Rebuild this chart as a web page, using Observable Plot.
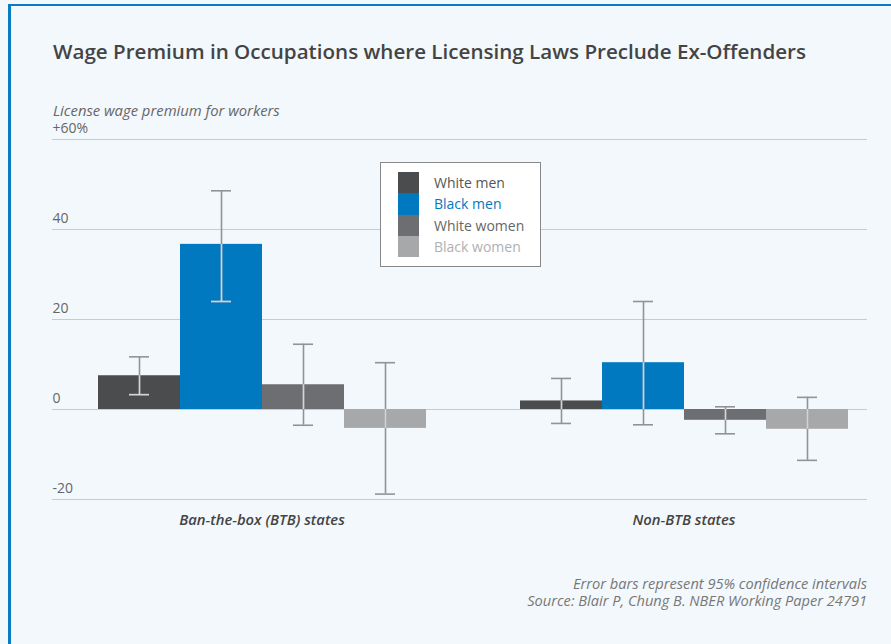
<!DOCTYPE html>
<html>
<head>
<meta charset="utf-8">
<script src="https://cdn.jsdelivr.net/npm/d3@7"></script>
<script src="https://cdn.jsdelivr.net/npm/@observablehq/plot@0.6"></script>
<style>
  html, body { margin: 0; padding: 0; background: #f3f8fc; }
  body { width: 891px; height: 644px; overflow: hidden; position: relative; font-family: "Open Sans", Lato, sans-serif; }
  #frame { position: absolute; left: 8px; top: 4px; width: 900px; height: 700px; border-left: 3px solid #0a7cc4; border-top: 2px solid #0a7cc4; box-sizing: border-box; }
  #title { position: absolute; left: 53px; top: 38px; font-size: 20.6px; line-height: 26px; font-weight: 600; color: #444; white-space: nowrap; }
  #ylabel { position: absolute; left: 53px; top: 102px; font-size: 14.8px; line-height: 16px; font-style: italic; color: #666; white-space: nowrap; }
  .layer { position: absolute; left: 0; top: 0; }
  #legend { position: absolute; left: 380px; top: 162px; width: 161px; height: 105px; box-sizing: border-box; border: 1px solid #888; background: #fff; }
  .li { position: absolute; left: 17px; height: 21.3px; display: flex; align-items: center; font-size: 14px; white-space: nowrap; }
  .sw { width: 21px; height: 21.3px; margin-right: 15px; }
  .cap { position: absolute; right: 24px; text-align: right; font-size: 14.6px; line-height: 15px; font-style: italic; color: #777; white-space: nowrap; }
</style>
</head>
<body>
<div id="frame"></div>
<div id="grid" class="layer"></div>
<div id="chart" class="layer"></div>
<div id="title">Wage Premium in Occupations where Licensing Laws Preclude Ex-Offenders</div>
<div id="ylabel">License wage premium for workers</div>
<div id="legend"></div>
<div class="cap" style="top:576px">Error bars represent 95% confidence intervals</div>
<div class="cap" style="top:593px">Source: Blair P, Chung B. NBER Working Paper 24791</div>
<script>
// ---- data ----
const groups = ["Ban-the-box (BTB) states", "Non-BTB states"];
const series = ["White men", "Black men", "White women", "Black women"];
const btbValues = [7.5, 36.7, 5.5, -4.2];
const btbLow    = [3.3, 24.0, -3.5, -18.8];
const btbHigh   = [11.7, 48.6, 14.5, 10.4];
const nonValues = [1.9, 10.4, -2.4, -4.4];
const nonLow    = [-3.1, -3.4, -5.4, -11.3];
const nonHigh   = [6.9, 24.0, 0.6, 2.7];
const yTicks = [-20, 0, 20, 40, 60];
const yTickLabels = ["-20", "0", "20", "40", "+60%"];

const colors = ["#4b4c4e", "#0079c1", "#6d6e71", "#a7a8aa"];
const legendTextColors = ["#555555", "#0079c1", "#666666", "#b0b0b0"];

const rows = [];
[[btbValues, btbLow, btbHigh], [nonValues, nonLow, nonHigh]].forEach(([vals, lows, highs], gi) => {
  series.forEach((s, i) => {
    const v = vals[i], lo = lows[i], hi = highs[i];
    const a = v >= 0 ? Math.max(lo, 0) : Math.max(lo, v);
    const b = v >= 0 ? Math.min(hi, v) : Math.min(hi, 0);
    const bmin = Math.min(0, v), bmax = Math.max(0, v);
    rows.push({group: groups[gi], series: s, value: v, lo, hi, inLo: a, inHi: b,
      loInside: lo >= bmin && lo <= bmax, hiInside: hi >= bmin && hi <= bmax});
  });
});
const inner = rows.filter(d => d.inHi > d.inLo);

const font = '"Open Sans", Lato, sans-serif';
const common = {
  width: 891,
  height: 644,
  marginLeft: 52,
  marginRight: 24,
  marginTop: 139,
  marginBottom: 145,
  style: {background: "transparent", fontFamily: font, overflow: "visible"},
  y: {domain: [-20, 60], axis: null, label: null}
};

// background layer: gridlines and y tick labels across the full frame
const grid = Plot.plot({
  ...common,
  marks: [
    Plot.ruleY(yTicks, {y: d => d, stroke: "#c9cacc", strokeWidth: 1.2}),
    Plot.text(yTicks, {y: d => d, text: (d, i) => yTickLabels[i], frameAnchor: "left", textAnchor: "start", dx: 0, dy: -11, fill: "#666", fontSize: 14})
  ]
});
document.getElementById("grid").appendChild(grid);

// foreground layer: grouped bars with error bars
const chart = Plot.plot({
  ...common,
  fx: {domain: groups, range: [97, 849], paddingInner: 0.22, paddingOuter: 0, axis: null, label: null},
  x: {domain: series, padding: 0, axis: null, label: null},
  color: {domain: series, range: colors},
  marks: [
    Plot.barY(rows, {fx: "group", x: "series", y: "value", fill: "series"}),
    Plot.ruleX(rows, {fx: "group", x: "series", y1: "lo", y2: "hi", stroke: "#929396", strokeWidth: 1.6}),
    Plot.tickY(rows, {fx: "group", x: "series", y: "lo", stroke: "#929396", strokeWidth: 1.6, insetLeft: 31, insetRight: 31}),
    Plot.tickY(rows, {fx: "group", x: "series", y: "hi", stroke: "#929396", strokeWidth: 1.6, insetLeft: 31, insetRight: 31}),
    Plot.ruleX(inner, {fx: "group", x: "series", y1: "inLo", y2: "inHi", stroke: "#ffffff", strokeOpacity: 0.6, strokeWidth: 1.6}),
    Plot.tickY(rows.filter(d => d.loInside), {fx: "group", x: "series", y: "lo", stroke: "#ffffff", strokeOpacity: 0.6, strokeWidth: 1.6, insetLeft: 31, insetRight: 31}),
    Plot.tickY(rows.filter(d => d.hiInside), {fx: "group", x: "series", y: "hi", stroke: "#ffffff", strokeOpacity: 0.6, strokeWidth: 1.6, insetLeft: 31, insetRight: 31}),
    Plot.text(groups, {fx: d => d, text: d => d, frameAnchor: "bottom", dy: 25, fill: "#444", fontSize: 14.8, fontWeight: 600, fontStyle: "italic"})
  ]
});
document.getElementById("chart").appendChild(chart);

const legend = document.getElementById("legend");
series.forEach((s, i) => {
  const item = document.createElement("div");
  item.className = "li";
  item.style.top = (9 + i * 21.3) + "px";
  item.innerHTML = `<div class="sw" style="background:${colors[i]}"></div><span style="color:${legendTextColors[i]}">${s}</span>`;
  legend.appendChild(item);
});
</script>
</body>
</html>
